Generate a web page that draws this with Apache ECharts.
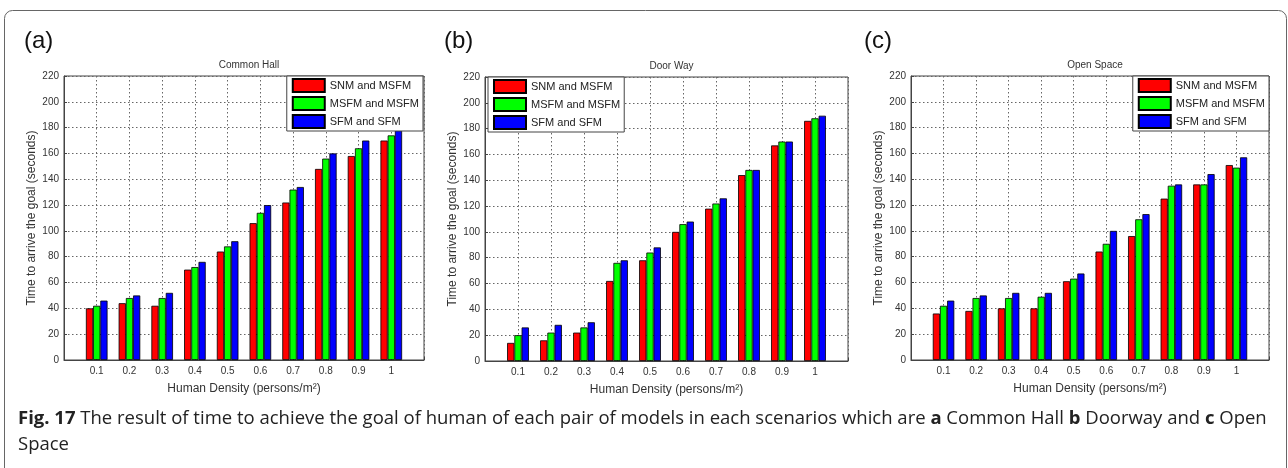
<!DOCTYPE html>
<html>
<head>
<meta charset="utf-8">
<script src="https://cdn.jsdelivr.net/npm/echarts@6/dist/echarts.min.js"></script>
<style>html,body{margin:0;padding:0;background:#fff;}#c{width:1288px;height:468px;}</style>
</head>
<body>
<div id="c"></div>
<script>
const categories = ['0.1','0.2','0.3','0.4','0.5','0.6','0.7','0.8','0.9','1'];
const seriesNames = ['SNM and MSFM','MSFM and MSFM','SFM and SFM'];
const yTicks = [0,20,40,60,80,100,120,140,160,180,200,220];
const panelTitles = ['Common Hall','Door Way','Open Space'];
const panelTags = ['(a)','(b)','(c)'];

// Common Hall
const hallSNM  = [40,44,42,70,84,106,122,148,158,170];
const hallMSFM = [42,48,48,72,88,114,132,156,164,174];
const hallSFM  = [46,50,52,76,92,120,134,160,170,178];
// Door Way
const doorSNM  = [14,16,22,62,78,100,118,144,167,186];
const doorMSFM = [20,22,26,76,84,106,122,148,170,188];
const doorSFM  = [26,28,30,78,88,108,126,148,170,190];
// Open Space
const openSNM  = [36,38,40,40,61,84,96,125,136,151];
const openMSFM = [42,48,48,49,63,90,109,135,136,149];
const openSFM  = [46,50,52,52,67,100,113,136,144,157];

const panelData = [
  [hallSNM, hallMSFM, hallSFM],
  [doorSNM, doorMSFM, doorSFM],
  [openSNM, openMSFM, openSFM]
];
const colors = ['#ff0000','#00ff00','#0000ff'];

const grids = [
  {left:64, top:76, width:360, height:284},
  {left:485, top:77, width:363, height:284},
  {left:911, top:76, width:358, height:284}
];
const legendPos = [
  {right:865, top:76},
  {left:488, top:77},
  {right:19, top:76}
];
const tagX = [24, 444, 864];

const FONT = 'Liberation Sans, Arial, sans-serif';
const CAP_FONT = 'Open Sans, sans-serif';
const xData = [''].concat(categories, ['']);

const option = {
  animation:false,
  backgroundColor:'#fff',
  title: grids.map((g,i)=>({
    text: panelTitles[i], left: g.left + g.width/2, top: g.top-21, textAlign:'center',
    textStyle:{fontSize:10, fontWeight:'normal', color:'#333', fontFamily:FONT}
  })),
  grid: grids.map(g=>Object.assign({show:true, borderColor:'#444', borderWidth:1, backgroundColor:'transparent'}, g)),
  legend: legendPos.map(p=>Object.assign({
    orient:'vertical', data: seriesNames, icon:'rect', itemWidth:32, itemHeight:13, itemGap:3,
    padding:[2,4,2,5], borderColor:'#444', borderWidth:1, backgroundColor:'#fff',
    textStyle:{fontSize:11, color:'#222', fontFamily:FONT}, selectedMode:false
  }, p)),
  xAxis: grids.map((g,i)=>({
    gridIndex:i, type:'category', data:xData, boundaryGap:false,
    name:'Human Density (persons/m²)', nameLocation:'middle', nameGap:23,
    nameTextStyle:{fontSize:12, color:'#333', fontFamily:FONT},
    axisLine:{lineStyle:{color:'#444'}},
    axisTick:{inside:true, length:3, lineStyle:{color:'#444'}},
    axisLabel:{interval:0, fontSize:10, color:'#333', margin:6, fontFamily:FONT},
    splitLine:{show:true, lineStyle:{color:'#666', type:[1.5,2.5], width:1}}
  })),
  yAxis: grids.map((g,i)=>({
    gridIndex:i, type:'value', min:yTicks[0], max:yTicks[yTicks.length-1], interval:yTicks[1]-yTicks[0],
    name:'Time to arrive the goal (seconds)', nameLocation:'middle', nameGap:26,
    nameTextStyle:{fontSize:12, color:'#333', fontFamily:FONT},
    axisLine:{show:true, lineStyle:{color:'#444'}},
    axisTick:{show:true, inside:true, length:3, lineStyle:{color:'#444'}},
    axisLabel:{fontSize:10, color:'#333', margin:5, fontFamily:FONT},
    splitLine:{show:true, lineStyle:{color:'#666', type:[1.5,2.5], width:1}}
  })),
  series: [],
  graphic: [
    {type:'rect', shape:{x:4.5, y:10.5, width:1282, height:520, r:8}, style:{fill:'none', stroke:'#666', lineWidth:1}, silent:true}
  ]
};

panelData.forEach((set,pi)=>{
  set.forEach((vals,si)=>{
    option.series.push({
      type:'bar', name:seriesNames[si], xAxisIndex:pi, yAxisIndex:pi,
      data:['-'].concat(vals, ['-']),
      barWidth:'22%', barGap:'0%',
      itemStyle:{color:colors[si], borderColor:'#000', borderWidth:0.8}
    });
  });
  option.graphic.push({type:'text', left:tagX[pi], top:29, style:{text:panelTags[pi], fontSize:24, fill:'#111', fontFamily:FONT}});
});

option.graphic.push({
  type:'text', left:18, top:409,
  style:{
    text:'{b|Fig. 17} The result of time to achieve the goal of human of each pair of models in each scenarios which are {b|a} Common Hall {b|b} Doorway and {b|c} Open',
    fontSize:18.5, fill:'#222', fontFamily:CAP_FONT,
    rich:{b:{fontWeight:'bold', fontSize:18.5, fill:'#222', fontFamily:CAP_FONT}}
  }
});
option.graphic.push({
  type:'text', left:18, top:435,
  style:{text:'Space', fontSize:18.5, fill:'#222', fontFamily:CAP_FONT}
});

const chart = echarts.init(document.getElementById('c'), null, {renderer:'canvas'});
chart.setOption(option);
</script>
</body>
</html>
